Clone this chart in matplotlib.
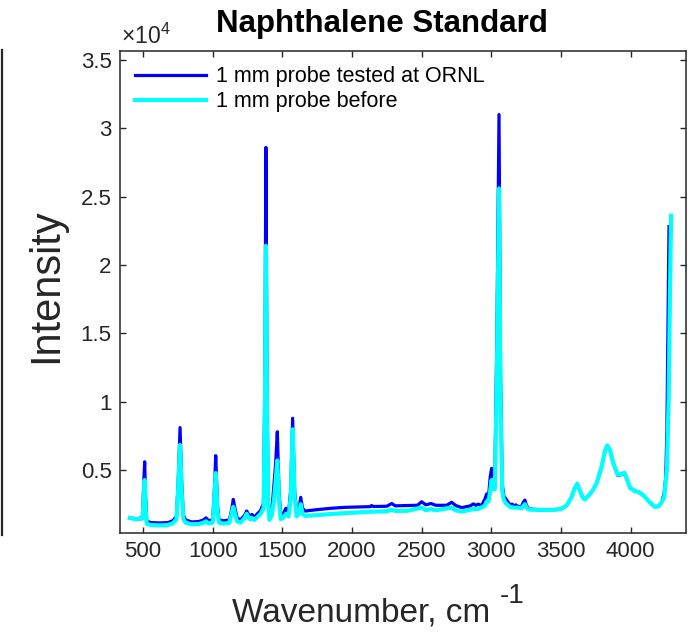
import numpy as np
import matplotlib
matplotlib.use("Agg")
import matplotlib.pyplot as plt
from matplotlib.lines import Line2D
from matplotlib.ticker import FuncFormatter, MultipleLocator

plt.rcParams.update({
    "font.family": ["Liberation Sans", "DejaVu Sans"],
    "mathtext.fontset": "custom",
    "mathtext.rm": "Liberation Sans",
    "mathtext.it": "Liberation Sans:italic",
    "mathtext.bf": "Liberation Sans:bold",
})

INK = "#262626"

# ─── data (wavenumber cm-1, intensity counts) ────────────────────────────────
ornl_wn = [405, 440, 480, 497, 505, 512, 519, 527, 560, 620, 680, 715, 740, 752,
           766, 778, 790, 805, 850, 900, 935, 952, 970, 1000, 1010, 1022, 1034,
           1045, 1080, 1120, 1138, 1148, 1160, 1175, 1200, 1230, 1244, 1258,
           1270, 1282, 1300, 1320, 1345, 1365, 1375, 1382, 1390, 1398, 1408,
           1425, 1440, 1452, 1464, 1476, 1488, 1505, 1526, 1545, 1560, 1574,
           1588, 1603, 1620, 1632, 1645, 1665, 1750, 1850, 1950, 2050, 2130,
           2140, 2155, 2250, 2285, 2310, 2400, 2470, 2500, 2530, 2567, 2600,
           2680, 2715, 2745, 2787, 2850, 2870, 2890, 2906, 2930, 2955, 2966,
           2980, 2992, 3002, 3012, 3025, 3040, 3055, 3066, 3078, 3090, 3110,
           3134, 3150, 3163, 3175, 3190, 3215, 3230, 3241, 3252, 3270, 3350,
           3450, 3500, 3540, 3575, 3600, 3617, 3635, 3655, 3672, 3700, 3730,
           3756, 3792, 3815, 3832, 3850, 3875, 3907, 3930, 3954, 3975, 3995,
           4031, 4055, 4079, 4100, 4127, 4150, 4175, 4200, 4223, 4240, 4252,
           4260, 4268, 4275]
ornl_int = [1500, 1450, 1460, 1600, 4000, 5600, 3000, 1250, 1150, 1130, 1150,
            1300, 1600, 4000, 8100, 4000, 1700, 1350, 1200, 1230, 1350, 1500,
            1300, 1350, 3000, 6050, 2500, 1350, 1280, 1350, 2200, 2850, 2200,
            1500, 1350, 1700, 2000, 1750, 1650, 1750, 1550, 1800, 2050, 2600,
            12000, 28600, 12000, 3000, 1600, 2000, 3900, 5500, 7800, 3500, 1700,
            1800, 2200, 1900, 3500, 8780, 3500, 1900, 2200, 3000, 2200, 2000,
            2100, 2200, 2270, 2300, 2320, 2400, 2330, 2350, 2550, 2380, 2400,
            2420, 2680, 2450, 2550, 2420, 2420, 2640, 2400, 2250, 2380, 2520,
            2420, 2500, 2400, 2900, 3250, 3100, 4500, 5120, 4300, 4300, 15000,
            31000, 12000, 4000, 3100, 2800, 2450, 2500, 2350, 2450, 2350, 2300,
            2650, 2800, 2400, 2150, 2100, 2100, 2150, 2400, 3000, 3700, 3980,
            3500, 3000, 2850, 3150, 3550, 4050, 5250, 6400, 6750, 6500, 5500,
            4600, 4650, 4800, 4300, 3700, 3450, 3400, 3250, 3050, 2750, 2500,
            2300, 2350, 2650, 3300, 4500, 8000, 16000, 22800]

before_wn = [405, 440, 480, 497, 505, 512, 519, 527, 560, 620, 680, 715, 740,
             752, 766, 778, 790, 805, 850, 900, 935, 952, 970, 1000, 1010, 1022,
             1034, 1045, 1080, 1120, 1138, 1148, 1160, 1175, 1200, 1230, 1244,
             1258, 1270, 1282, 1300, 1320, 1345, 1365, 1375, 1382, 1390, 1398,
             1408, 1425, 1440, 1452, 1464, 1476, 1488, 1505, 1526, 1545, 1560,
             1574, 1588, 1603, 1620, 1632, 1645, 1665, 1750, 1850, 1950, 2050,
             2130, 2250, 2285, 2310, 2400, 2500, 2530, 2567, 2600, 2715, 2745,
             2787, 2870, 2906, 2955, 2966, 2980, 2992, 3002, 3012, 3025, 3040,
             3055, 3066, 3078, 3090, 3110, 3134, 3163, 3190, 3215, 3241, 3252,
             3270, 3350, 3450, 3500, 3540, 3575, 3600, 3617, 3635, 3655, 3672,
             3700, 3730, 3756, 3792, 3815, 3832, 3850, 3875, 3907, 3930, 3954,
             3975, 3995, 4031, 4055, 4079, 4100, 4127, 4150, 4175, 4200, 4223,
             4240, 4260, 4272, 4282, 4290]
before_int = [1500, 1400, 1420, 1450, 3000, 4270, 2200, 1050, 980, 950, 980,
              1100, 1400, 3500, 6830, 3300, 1400, 1150, 1030, 1050, 1150, 1250,
              1100, 1150, 2500, 4780, 2000, 1150, 1080, 1150, 1900, 2300, 1800,
              1250, 1150, 1500, 1800, 1500, 1400, 1500, 1350, 1550, 1800, 2200,
              9000, 21400, 9000, 2500, 1350, 1700, 2800, 4200, 5700, 2800, 1400,
              1500, 1800, 1600, 3000, 7980, 3000, 1600, 1800, 2500, 1800, 1650,
              1700, 1780, 1850, 1900, 1950, 1980, 2100, 2000, 2020, 2250, 2050,
              2150, 2050, 2250, 2050, 1950, 2150, 2150, 2400, 2700, 2700, 3500,
              4270, 3600, 3600, 12000, 25600, 10000, 3500, 2800, 2500, 2300,
              2250, 2250, 2200, 2500, 2250, 2100, 2080, 2080, 2150, 2400, 3000,
              3700, 4000, 3500, 3000, 2850, 3150, 3550, 4050, 5250, 6400, 6800,
              6500, 5500, 4650, 4700, 4800, 4300, 3700, 3450, 3400, 3250, 3050,
              2750, 2500, 2300, 2350, 2650, 3000, 5000, 10000, 18000, 23600]

labels = ["1 mm probe tested at ORNL", "1 mm probe before"]
colors = ["#0000FF", "#00FFFF"]

fig = plt.figure(figsize=(6.94, 6.36), dpi=100)
ax = fig.add_axes([120 / 694, 103 / 636, 566 / 694, 482 / 636])

ax.plot(ornl_wn, ornl_int, color=colors[0], lw=2.3, label=labels[0],
        solid_joinstyle="round", zorder=2)
ax.plot(before_wn, before_int, color=colors[1], lw=3.0, label=labels[1],
        solid_joinstyle="round", zorder=3)

ax.set_xlim(335, 4397)
ax.set_ylim(392, 35650)
ax.set_xticks(np.arange(500, 4001, 500))
ax.yaxis.set_major_locator(MultipleLocator(5000))
ax.yaxis.set_major_formatter(FuncFormatter(lambda v, p: f"{v / 1e4:g}"))

for s in ax.spines.values():
    s.set_linewidth(1.1)
    s.set_color(INK)
ax.tick_params(direction="in", length=4.3, width=1.0, colors=INK,
               labelsize=16, top=True, right=True, pad=6)

leg = ax.legend(loc="upper left", frameon=False, fontsize=15.5,
                handlelength=3.3, handletextpad=0.45, borderaxespad=0.3,
                labelspacing=0.2)

fig.text(382 / 694, (636 - 32) / 636, "Naphthalene Standard", ha="center",
         va="baseline", fontsize=22.5, fontweight="bold")
fig.text(121 / 694, (636 - 44) / 636, r"$\times$10$^{4}$", ha="left",
         va="baseline", fontsize=16.5, color=INK)

# x label drawn as two pieces so the exponent keeps a plain hyphen
fig.text(232 / 694, (636 - 622) / 636, "Wavenumber, cm", ha="left",
         va="baseline", fontsize=24, color=INK)
fig.text(500 / 694, (636 - 603) / 636, "-1", ha="left",
         va="baseline", fontsize=20, color=INK)
fig.text(46 / 694, (636 - 286) / 636, "Intensity", rotation=90, ha="center",
         va="center", fontsize=30, color=INK)

# stray axis edge at the far left of the figure
fig.add_artist(Line2D([1.5 / 694, 1.5 / 694], [(636 - 535) / 636, (636 - 50) / 636],
                      transform=fig.transFigure, color=INK, lw=1.6))

fig.savefig("out.png", dpi=100)
